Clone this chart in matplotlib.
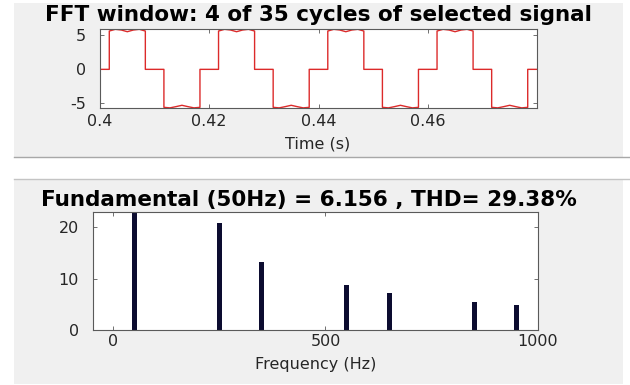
import matplotlib
matplotlib.use("Agg")
import matplotlib.pyplot as plt
from matplotlib.patches import Rectangle
from matplotlib.lines import Line2D

plt.rcParams['font.family'] = ['DejaVu Sans']
plt.rcParams['axes.unicode_minus'] = False

# ---- time-domain signal: switching instants (s) and the level held after each ----
edge_times = [0.4017, 0.4083, 0.4117, 0.4183,
              0.4217, 0.4283, 0.4317, 0.4383,
              0.4417, 0.4483, 0.4517, 0.4583,
              0.4617, 0.4683, 0.4717, 0.4783]
edge_levels = [1, 0, -1, 0] * 4
t_start, t_end = 0.4, 0.48
# plateau shape across one conduction interval (positive / negative half)
plateau_pos = [5.65, 5.90, 5.80, 5.55, 5.80, 5.90, 5.65]
plateau_neg = [-5.60, -5.68, -5.50, -5.30, -5.50, -5.68, -5.60]

# ---- harmonic spectrum ----
freqs = [50, 250, 350, 550, 650, 850, 950]
mags = [100, 20.8, 13.2, 8.8, 7.2, 5.4, 4.8]

title_top = "FFT window: 4 of 35 cycles of selected signal"
title_bot = "Fundamental (50Hz) = 6.156 , THD= 29.38%"

# build the waveform polyline from the switching instants
bounds = [t_start] + edge_times + [t_end]
levels = [0] + edge_levels
t_pts, v_pts = [], []
for i, lev in enumerate(levels):
    a, b = bounds[i], bounds[i + 1]
    if lev == 0:
        t_pts += [a, b]
        v_pts += [0.0, 0.0]
    else:
        prof = plateau_pos if lev > 0 else plateau_neg
        n = len(prof)
        for k, v in enumerate(prof):
            t_pts.append(a + (b - a) * k / (n - 1))
            v_pts.append(v)

W, H = 630, 385
fig = plt.figure(figsize=(W / 100, H / 100), dpi=100, facecolor='white')

def fx(px):
    return px / W

def fy(py):
    return 1 - py / H

panel = '#f0f0f0'
# upper and lower panels (kept behind the axes)
fig.patches.append(Rectangle((fx(14), fy(157)), fx(623) - fx(14), fy(3) - fy(157),
                             transform=fig.transFigure, facecolor=panel, edgecolor='none', zorder=-5))
fig.patches.append(Rectangle((fx(14), fy(384)), fx(623) - fx(14), fy(179) - fy(384),
                             transform=fig.transFigure, facecolor=panel, edgecolor='none', zorder=-5))
fig.lines.append(Line2D([fx(14), 1], [fy(157), fy(157)], transform=fig.transFigure,
                        color='#a8a8a8', lw=1.0, zorder=-4))
fig.lines.append(Line2D([fx(14), 1], [fy(179), fy(179)], transform=fig.transFigure,
                        color='#c4c4c4', lw=1.0, zorder=-4))

txt = '#262626'
edge = '#5a5a5a'
tick_fs = 11.5
title_fs = 15.5

def style(ax):
    ax.set_facecolor('white')
    for s in ax.spines.values():
        s.set_color(edge)
        s.set_linewidth(0.8)
    ax.tick_params(direction='in', length=3, width=0.6, color=edge,
                   top=True, right=True, labelcolor=txt, labelsize=tick_fs)

# time-domain plot
ax1 = fig.add_axes([fx(100), fy(108), fx(537) - fx(100), fy(29) - fy(108)])
style(ax1)
ax1.plot(t_pts, v_pts, color='#dc2a2a', lw=1.0)
ax1.set_xlim(t_start, t_end)
ax1.set_ylim(-5.7, 5.95)
ax1.set_xticks([0.4, 0.42, 0.44, 0.46])
ax1.set_xticklabels(['0.4', '0.42', '0.44', '0.46'])
ax1.set_yticks([-5, 0, 5])
ax1.tick_params(axis='x', pad=4)
ax1.tick_params(axis='y', pad=10)
fig.text(fx(318), fy(144), 'Time (s)', ha='center', va='center', fontsize=tick_fs, color=txt)
fig.text(fx(318), fy(15), title_top, ha='center', va='center', fontsize=title_fs,
         fontweight='bold', color='black')

# spectrum plot
ax2 = fig.add_axes([fx(93), fy(330), fx(538) - fx(93), fy(212) - fy(330)])
style(ax2)
ax2.bar(freqs, mags, width=11, color='#0c0c30')
ax2.set_xlim(-47, 997)
ax2.set_ylim(0, 23)
ax2.set_xticks([0, 500, 1000])
ax2.set_yticks([0, 10, 20])
ax2.tick_params(axis='x', pad=3)
ax2.tick_params(axis='y', pad=10)
fig.text(fx(316), fy(365), 'Frequency (Hz)', ha='center', va='center', fontsize=tick_fs, color=txt)
fig.text(fx(309), fy(200), title_bot, ha='center', va='center', fontsize=title_fs,
         fontweight='bold', color='black')

fig.savefig('out.png', dpi=100, facecolor='white')
